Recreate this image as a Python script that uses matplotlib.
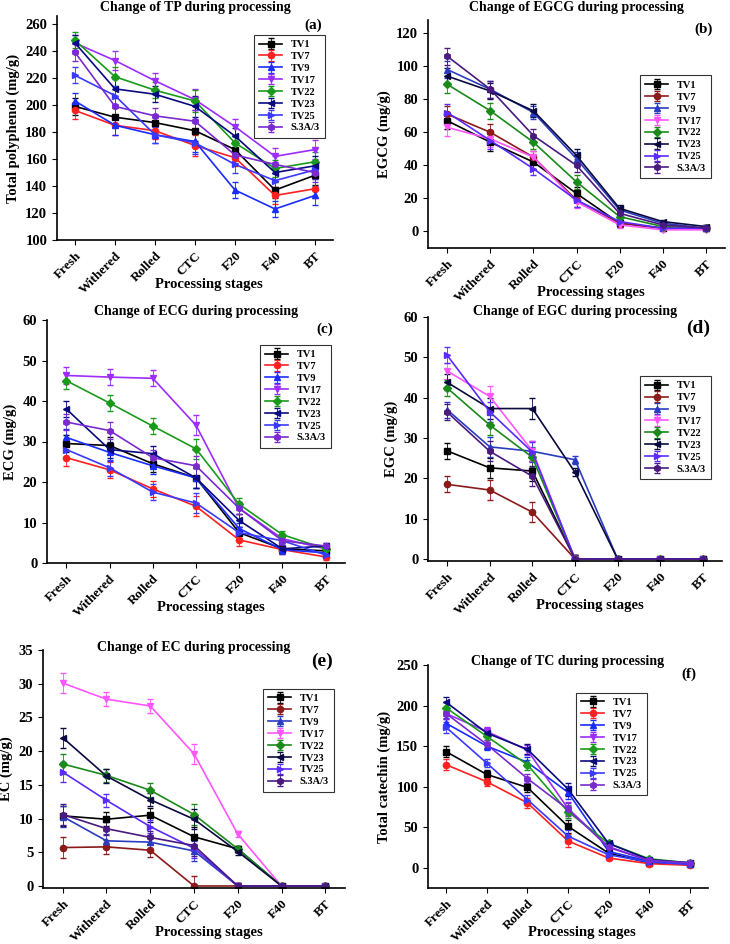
import matplotlib
matplotlib.use('Agg')
import matplotlib.pyplot as plt

plt.rcParams['font.family'] = 'Liberation Serif'
plt.rcParams['font.weight'] = 'bold'

stages = ["Fresh", "Withered", "Rolled", "CTC", "F20", "F40", "BT"]
cultivars = ["TV1", "TV7", "TV9", "TV17", "TV22", "TV23", "TV25", "S.3A/3"]
markers = ["s", "o", "^", "v", "D", "<", ">", "h"]

bright = ["#000000", "#ff2020", "#1a2cff", "#9d2cff", "#1a9a1a", "#0a0a80", "#3a3aff", "#7a2ad0"]
dark = ["#000000", "#8b1a1a", "#2a3cc0", "#ff55ff", "#1a8a1a", "#0a0a40", "#5a2aff", "#4a1a80"]

# (a) total polyphenol
tp = [
    [199, 191, 187, 181, 167, 137, 148],
    [196, 185, 181, 170, 161, 133, 138],
    [203, 185, 178, 173, 137, 123, 133],
    [246, 233, 218, 204, 184, 162, 167],
    [248, 221, 211, 203, 172, 153, 158],
    [246, 212, 208, 199, 177, 150, 155],
    [222, 207, 178, 172, 156, 144, 152],
    [239, 199, 192, 188, 163, 156, 150],
]
tp_err = [6, 7, 6, 8, 6, 6, 7]

# (b) EGCG
egcg = [
    [67, 54, 42, 23, 5, 2, 2],
    [71, 60, 45, 19, 5, 2, 2],
    [98, 86, 72, 44, 13, 5, 2],
    [63, 56, 45, 18, 4, 1, 1],
    [89, 73, 54, 30, 9, 3, 2],
    [94, 85, 73, 46, 14, 6, 3],
    [72, 55, 38, 19, 6, 2, 2],
    [106, 86, 58, 40, 11, 4, 2],
]
egcg_err = [5, 5, 4, 4, 2, 1, 1]

# (c) ECG
ecg = [
    [29.5, 29, 24.5, 21, 7.5, 3.5, 3],
    [26, 23, 18.3, 14, 5.7, 3.3, 1.5],
    [31, 27.3, 24, 21, 8.5, 3.3, 2.5],
    [46.3, 45.9, 45.6, 34, 13.5, 6, 3.5],
    [45, 39.5, 33.8, 28.2, 14.5, 7, 3.5],
    [38, 28, 27, 21, 10.5, 3.5, 4.2],
    [28, 23.5, 17.5, 14.8, 7.5, 5.5, 2],
    [34.8, 32.7, 26, 24, 13.5, 5.5, 4.2],
]
ecg_err = [2, 2, 2, 2.5, 1.5, 1, 0.8]

# (d) EGC
egc = [
    [26.8, 22.6, 21.8, 0, 0, 0, 0],
    [18.5, 17.1, 11.6, 0, 0, 0, 0],
    [37, 27.8, 26.7, 24.6, 0, 0, 0],
    [46.6, 40.3, 26.8, 0, 0, 0, 0],
    [42.4, 33.2, 25.2, 0, 0, 0, 0],
    [43.8, 37.3, 37.3, 21.5, 0, 0, 0],
    [50.5, 36.5, 26.5, 0, 0, 0, 0],
    [36.4, 26.7, 20.5, 0, 0, 0, 0],
]
egc_err = [2, 2.5, 2.5, 1, 0, 0, 0]

# (e) EC
ec = [
    [10.4, 9.9, 10.5, 7.3, 5.5, 0, 0],
    [5.7, 5.8, 5.3, 0, 0, 0, 0],
    [10.3, 6.7, 6.5, 5.2, 0, 0, 0],
    [30.1, 27.7, 26.7, 19.6, 7.7, 0, 0],
    [18.1, 16.4, 14.2, 10.6, 5.5, 0, 0],
    [22, 16.3, 12.8, 9.9, 5.1, 0, 0],
    [16.9, 12.7, 8.8, 5.6, 0, 0, 0],
    [10.6, 8.5, 7.2, 6, 0, 0, 0],
]
ec_err = [1.5, 1, 1, 1.5, 0.5, 0, 0]

# (f) total catechin
tc = [
    [143, 115, 99, 51, 18, 6, 4],
    [127, 106, 80, 33, 12, 5, 3],
    [178, 150, 130, 93, 20, 8, 5],
    [190, 168, 145, 73, 26, 9, 6],
    [197, 162, 127, 69, 30, 11, 6],
    [204, 166, 146, 97, 30, 10, 6],
    [173, 129, 84, 39, 16, 7, 4],
    [190, 152, 110, 72, 25, 9, 6],
]
tc_err = [7, 5, 6, 8, 3, 2, 1]

W, H = 730, 944
panels = [
    # data, err, palette, title, tag, ylabel, ylim, yticks, box(px l,t,r,b), legend anchor, title y(px)
    (tp, tp_err, bright, "Change of TP during processing", "(a)", "Total polyphenol (mg/g)",
     (100, 266), range(100, 261, 20), (57, 16, 333, 240), (0.99, 0.94), 8),
    (egcg, egcg_err, dark, "Change of EGCG during processing", "(b)", "EGCG (mg/g)",
     (-10, 128), range(0, 121, 20), (428, 20, 725, 248), (0.97, 0.78), 8),
    (ecg, ecg_err, bright, "Change of ECG during processing", "(c)", "ECG (mg/g)",
     (0, 60), range(0, 61, 10), (47, 320, 345, 563), (0.97, 0.92), 312),
    (egc, egc_err, dark, "Change of EGC during processing", "(d)", "EGC (mg/g)",
     (-0.5, 60), range(0, 61, 10), (428, 317, 722, 561), (0.98, 0.78), 311),
    (ec, ec_err, dark, "Change of EC during processing", "(e)", "EC (mg/g)",
     (-0.3, 35), range(0, 36, 5), (43, 650, 345, 888), (0.98, 0.86), 648),
    (tc, tc_err, bright, "Change of TC during processing", "(f)", "Total catechin (mg/g)",
     (-25, 250), range(0, 251, 50), (428, 665, 708, 888), (0.8, 0.9), 661),
]

fig = plt.figure(figsize=(W / 100, H / 100), dpi=100)
x = list(range(len(stages)))
for data, err, pal, title, tag, ylab, ylim, yt, box, lpos, ty in panels:
    l, t, r, b = box
    ax = fig.add_axes([l / W, 1 - b / H, (r - l) / W, (b - t) / H])
    for i, name in enumerate(cultivars):
        ax.errorbar(x, data[i], yerr=err, color=pal[i], marker=markers[i],
                    markersize=4.5, linewidth=1.2, capsize=2, elinewidth=0.6,
                    ecolor=pal[i], label=name)
    ax.set_ylim(*ylim)
    ax.set_yticks(list(yt))
    ax.set_xlim(-0.45, 6.45)
    ax.set_xticks(x)
    ax.set_xticklabels(stages, rotation=45, ha="right", rotation_mode="anchor", fontsize=9.5)
    ax.tick_params(axis="y", labelsize=10.5)
    ax.spines["top"].set_visible(False)
    ax.spines["right"].set_visible(False)
    ax.spines["left"].set_linewidth(1.2)
    ax.spines["bottom"].set_linewidth(1.2)
    ax.set_ylabel(ylab, fontsize=10.5, fontweight="bold")
    ax.set_xlabel("Processing stages", fontsize=10.5, fontweight="bold")
    ax.xaxis.set_label_coords(0.55, -38 / (b - t))
    fig.text(((l + r) / 2) / W, 1 - ty / H, title, ha="center", va="center",
             fontsize=10, fontweight="bold")
    ax.text(0.96, 0.99, tag, transform=ax.transAxes, ha="right", va="top",
            fontsize=11 if tag in ("(a)", "(b)", "(c)", "(f)") else 14, fontweight="bold")
    leg = ax.legend(loc="upper right", bbox_to_anchor=lpos, fontsize=7.5, frameon=True,
                    fancybox=False, edgecolor="black", handlelength=2.2,
                    labelspacing=0.25, borderpad=0.5)
    leg.get_frame().set_linewidth(0.8)
    for txt in leg.get_texts():
        txt.set_fontweight("bold")

fig.savefig("out.png", dpi=100)
